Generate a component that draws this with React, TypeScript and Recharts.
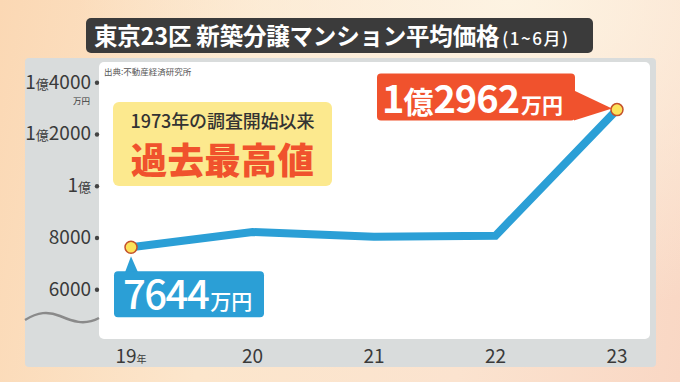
import React from "react";
import { LineChart, Line, XAxis, YAxis } from "recharts";

const years = ["19", "20", "21", "22", "23"];
const prices = [7644, 8232, 8050, 8090, 12962];
const yTicks = [6000, 8000, 10000, 12000, 14000];
const titleMain = "東京23区 新築分譲マンション平均価格";
const titleSub = "(1~6月)";
const sourceText = "出典:不動産経済研究所";
const noteLine1 = "1973年の調査開始以来";
const noteLine2 = "過去最高値";

const data = years.map((y, i) => ({ year: y, price: prices[i] }));

const FONT = "'Noto Sans CJK JP', 'Noto Sans', sans-serif";
const LINE_BLUE = "#2b9fd6";
const RED = "#f0522d";

function fmtOku(v: number) {
  const oku = Math.floor(v / 10000);
  const man = v % 10000;
  return { oku, man };
}

const YTick = (props: any) => {
  const { x, y, payload } = props;
  const v = payload.value as number;
  const { oku, man } = fmtOku(v);
  return (
    <g>
      <circle cx={x - 3} cy={y} r={2.2} fill="#444" />
      <text x={x - 9} y={y + 6} textAnchor="end" fill="#3a3a3a" fontFamily={FONT} fontSize={19}>
        {oku > 0 ? (
          <>
            <tspan>{oku}</tspan>
            <tspan fontSize={13}>億</tspan>
            {man > 0 ? <tspan>{man}</tspan> : null}
          </>
        ) : (
          <tspan>{man}</tspan>
        )}
      </text>
      {v === yTicks[yTicks.length - 1] ? (
        <text x={x - 10} y={y + 21} textAnchor="end" fill="#3a3a3a" fontFamily={FONT} fontSize={8.5}>
          万円
        </text>
      ) : null}
    </g>
  );
};

const XTick = (props: any) => {
  const { x, y, payload, index } = props;
  return (
    <text x={x} y={y + 17} textAnchor="middle" fill="#3a3a3a" fontFamily={FONT} fontSize={19}>
      <tspan>{payload.value}</tspan>
      {index === 0 ? <tspan fontSize={10}>年</tspan> : null}
    </text>
  );
};

const PointLabel = (props: any) => {
  const { x, y, index, value } = props;
  if (index === 0) {
    return (
      <g>
        <path d={`M ${x} ${y + 9} L ${x - 6} ${y + 25} L ${x + 7} ${y + 25} Z`} fill={LINE_BLUE} />
        <rect x={x - 17} y={y + 24} width={150} height={46} rx={4} fill={LINE_BLUE} />
        <text x={x - 8} y={y + 62} fill="#fff" fontFamily={FONT} fontWeight={500}>
          <tspan fontSize={40} letterSpacing={-1.5}>{value}</tspan>
          <tspan fontSize={21} dx={2}>万円</tspan>
        </text>
      </g>
    );
  }
  if (index === prices.length - 1) {
    const { oku, man } = fmtOku(value);
    return (
      <g>
        <path d={`M ${x - 43} ${y - 19} L ${x - 43} ${y + 11} L ${x - 5} ${y - 1} Z`} fill={RED} />
        <rect x={x - 240} y={y - 36} width={198} height={47} rx={4} fill={RED} />
        <text x={x - 235} y={y + 3} fill="#fff" fontFamily={FONT} fontWeight={700}>
          <tspan fontSize={38} letterSpacing={-1}>{oku}</tspan>
          <tspan fontSize={30}>億</tspan>
          <tspan fontSize={38} letterSpacing={-1}>{man}</tspan>
          <tspan fontSize={21} dx={2}>万円</tspan>
        </text>
      </g>
    );
  }
  return null;
};

const Dot = (props: any) => {
  const { cx, cy, index } = props;
  if (index !== 0 && index !== prices.length - 1) return null;
  return <circle cx={cx} cy={cy} r={6} fill="#fce35a" stroke="#c4512b" strokeWidth={1.5} />;
};

export default function App() {
  return (
    <div
      style={{
        position: "fixed",
        left: 0,
        top: 0,
        width: 680,
        height: 382,
        overflow: "hidden",
        fontFamily: FONT,
        background:
          "radial-gradient(ellipse at 75% 0%, #fdf3e2 0%, rgba(253,240,222,0) 60%), linear-gradient(100deg, #fbd8b4 0%, #fce6cc 35%, #fbe3cf 70%, #f9d7c4 100%)",
      }}
    >
      {/* title */}
      <div
        style={{
          position: "absolute",
          left: 86,
          top: 18,
          width: 507,
          height: 35,
          background: "#3b3b3b",
          borderRadius: 5,
        }}
      />
      <div
        style={{
          position: "absolute",
          left: 94,
          top: 18,
          height: 35,
          lineHeight: "35px",
          color: "#fff",
          fontWeight: 700,
          fontSize: 23.5,
          whiteSpace: "nowrap",
          letterSpacing: -0.2,
        }}
      >
        {titleMain}
        <span style={{ fontSize: 17, fontWeight: 500, letterSpacing: 1.5, marginLeft: 3 }}>{titleSub}</span>
      </div>
      {/* gray panel */}
      <div
        style={{
          position: "absolute",
          left: 25,
          top: 58,
          width: 631,
          height: 309,
          background: "#d9dcdc",
          borderRadius: 4,
        }}
      />
      {/* white plot area */}
      <div
        style={{
          position: "absolute",
          left: 99,
          top: 62,
          width: 551,
          height: 277,
          background: "#ffffff",
          borderRadius: 5,
        }}
      />
      {/* source */}
      <div
        style={{ position: "absolute", left: 104, top: 65, fontSize: 8.5, color: "#555", whiteSpace: "nowrap" }}
      >
        {sourceText}
      </div>
      {/* note box */}
      <div
        style={{
          position: "absolute",
          left: 113,
          top: 102,
          width: 219,
          height: 84,
          background: "#fce98e",
          borderRadius: 6,
        }}
      />
      <div
        style={{
          position: "absolute",
          left: 113,
          top: 108,
          width: 219,
          height: 24,
          lineHeight: "24px",
          textAlign: "center",
          fontSize: 18,
          color: "#333",
          fontWeight: 500,
          whiteSpace: "nowrap",
          letterSpacing: -0.1,
        }}
      >
        {noteLine1}
      </div>
      <div
        style={{
          position: "absolute",
          left: 113,
          top: 138,
          width: 219,
          height: 42,
          textAlign: "center",
          fontSize: 36.5,
          lineHeight: "42px",
          color: RED,
          fontWeight: 900,
          whiteSpace: "nowrap",
          letterSpacing: 0.2,
        }}
      >
        {noteLine2}
      </div>
      {/* axis break */}
      <svg style={{ position: "absolute", left: 0, top: 0 }} width={680} height={382}>
        <path
          d="M 25 320 C 38 312, 48 311, 60 316 S 84 326, 99 318"
          fill="none"
          stroke="#8a8a8a"
          strokeWidth={2.5}
        />
      </svg>
      <div style={{ position: "absolute", left: 0, top: 0 }}>
        <LineChart
          width={680}
          height={382}
          data={data}
          margin={{ top: 62, right: 30, bottom: 0, left: 0 }}
        >
          <XAxis
            dataKey="year"
            axisLine={false}
            tickLine={false}
            height={44}
            padding={{ left: 31, right: 33 }}
            tick={<XTick />}
            interval={0}
          />
          <YAxis
            width={100}
            domain={[4135, 14802]}
            ticks={yTicks}
            allowDataOverflow
            axisLine={false}
            tickLine={false}
            tickSize={0}
            tickMargin={0}
            tick={<YTick />}
            interval={0}
          />
          <Line
            type="linear"
            dataKey="price"
            stroke={LINE_BLUE}
            strokeWidth={8}
            strokeLinejoin="miter"
            dot={<Dot />}
            activeDot={false}
            label={<PointLabel />}
            isAnimationActive={false}
          />
        </LineChart>
      </div>
    </div>
  );
}
